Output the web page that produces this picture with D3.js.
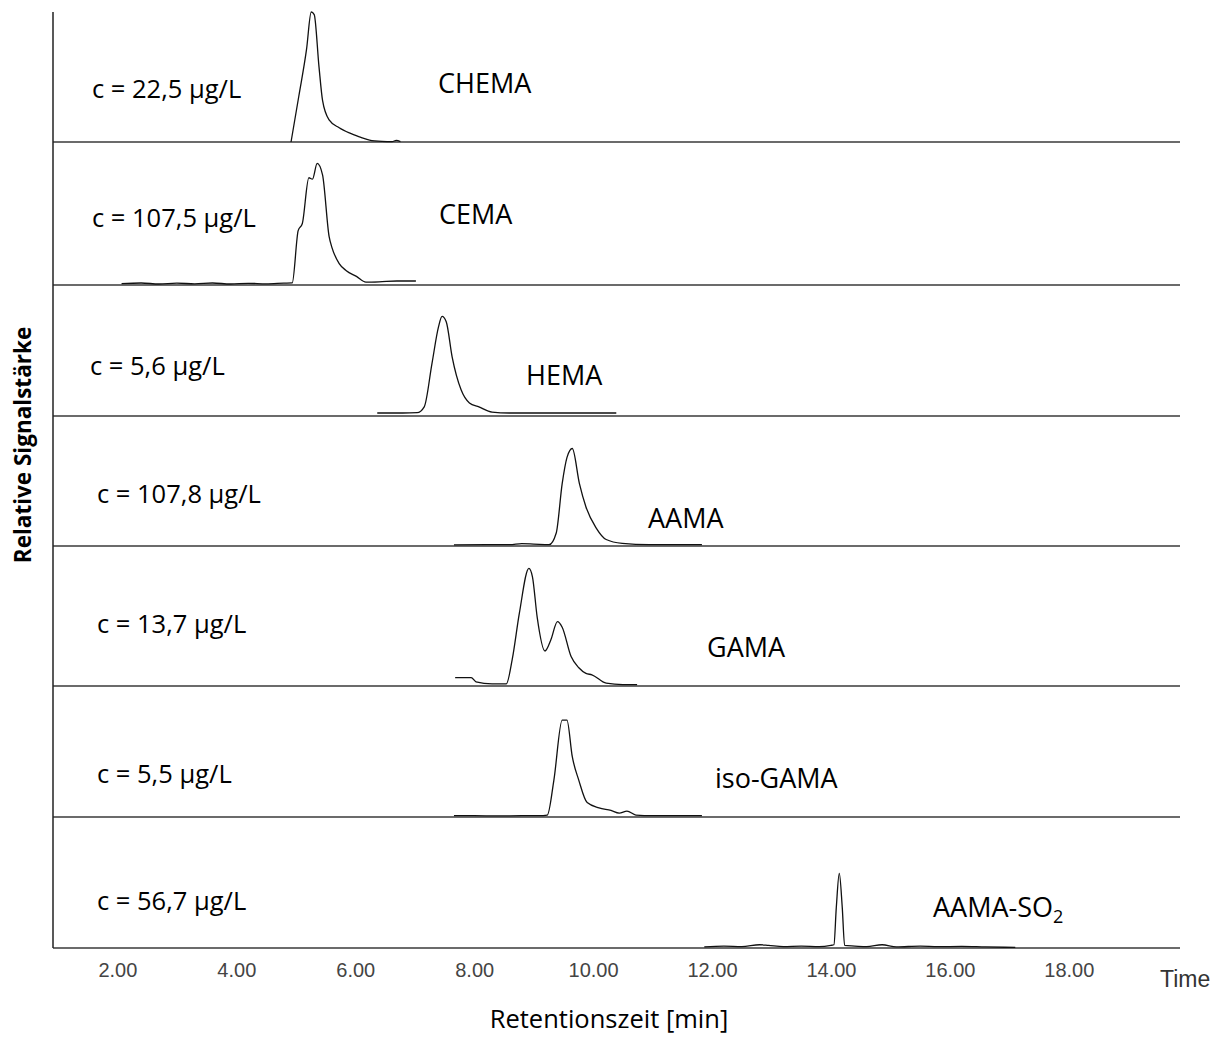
<!DOCTYPE html>
<html>
<head>
<meta charset="utf-8">
<script src="https://cdn.jsdelivr.net/npm/d3@7"></script>
<style>
  body { margin: 0; background: #fff; }
  .conc, .name, .xtitle, .ytitle { font-family: "Open Sans", sans-serif; fill: #000; }
  .axis text { font-family: "Liberation Sans", Arial, sans-serif; fill: #444; }
</style>
</head>
<body>
<div class="graph"></div>
<script>
// compound names + concentrations (one per panel, top to bottom)
var compounds = ["CHEMA", "CEMA", "HEMA", "AAMA", "GAMA", "iso-GAMA", "AAMA-SO"];
var concentrations = ["c = 22,5 µg/L", "c = 107,5 µg/L", "c = 5,6 µg/L", "c = 107,8 µg/L",
  "c = 13,7 µg/L", "c = 5,5 µg/L", "c = 56,7 µg/L"];
var tickValues = [2, 4, 6, 8, 10, 12, 14, 16, 18];

// traces: [retention time (min), relative signal (% of panel height)]
var chemaTrace = [[4.92,0],[5.05,35],[5.18,71],[5.26,100],[5.31,98],[5.39,58],[5.45,32],[5.56,17],
  [5.73,11],[5.90,7],[6.07,4],[6.24,1.5],[6.45,0.5],[6.62,0.3],[6.69,1.2],[6.76,0.3]];
var cemaTrace = [[2.07,1],[2.4,1.4],[2.7,0.7],[3.0,1.3],[3.3,0.8],[3.6,1.4],[3.9,0.7],[4.2,1.2],
  [4.5,0.8],[4.8,1.3],[4.94,1.5],[5.04,38],[5.11,43],[5.22,75],[5.28,74],[5.36,85],[5.45,77],
  [5.56,34],[5.61,26],[5.73,15],[5.85,10],[6.02,6],[6.18,2],[6.4,2.2],[6.7,2.8],[7.02,2.8]];
var hemaTrace = [[6.37,2.3],[6.8,2.3],[7.04,2.5],[7.16,7],[7.29,40],[7.40,68],[7.46,76],[7.53,72],
  [7.63,45],[7.78,20],[7.92,10],[8.08,7],[8.30,3],[8.59,2.3],[9.5,2.3],[10.39,2.3]];
var aamaTrace = [[7.66,0.8],[8.2,1],[8.6,1],[8.8,1.8],[9.0,1.5],[9.26,1],[9.38,10],[9.48,48],
  [9.56,68],[9.65,75],[9.77,48],[9.88,30],[10.05,14],[10.22,5],[10.49,2],[10.94,1],[11.4,1],[11.83,1]];
var gamaTrace = [[7.68,6],[7.95,6],[8.03,3],[8.30,1.5],[8.54,1.5],[8.64,19],[8.76,52],[8.92,84],
  [8.98,78],[9.06,49],[9.19,25],[9.29,33],[9.40,46],[9.48,42],[9.63,21],[9.76,13],[9.88,9],
  [9.98,8],[10.22,2],[10.5,1],[10.74,1]];
var isoGamaTrace = [[7.66,1],[8.0,1],[8.4,0.8],[8.8,1],[9.09,1],[9.23,1.5],[9.34,28],[9.48,74],
  [9.56,74],[9.65,46],[9.76,28],[9.90,11],[10.10,7],[10.30,5],[10.44,3],[10.57,4.5],[10.72,1.5],
  [11.0,1],[11.4,1],[11.83,1]];
var aamaSo2Trace = [[11.87,0.8],[12.2,1.5],[12.5,1],[12.8,2.5],[12.95,2],[13.2,1],[13.5,1.5],
  [13.8,1],[14.0,2],[14.05,2.5],[14.09,31],[14.14,57],[14.19,31],[14.23,2],[14.4,1.5],[14.6,1],
  [14.86,2.5],[15.1,0.8],[15.5,1.5],[15.8,1],[16.2,1.2],[16.6,0.8],[17.1,0.5]];
var traces = [chemaTrace, cemaTrace, hemaTrace, aamaTrace, gamaTrace, isoGamaTrace, aamaSo2Trace];

// layout
var width = 1225, height = 1042;
var plotLeft = 53, plotRight = 1180, plotTop = 12;
var panelBottoms = [142, 285, 416, 546, 686, 817, 948];
var concPos = [[92, -44], [92, -58], [90, -41], [97, -43], [97, -53], [97, -34], [97, -38]]; // px, offset from baseline
var namePos = [[438, -49], [439, -61], [526, -31], [648, -18], [707, -29], [715, -29], [933, -31]];

var svg = d3.select(".graph").append("svg")
  .attr("width", width).attr("height", height);

var x = d3.scaleLinear().domain([0.917, 19.87]).range([plotLeft, plotRight]);

var line = d3.line()
  .x(function (d) { return x(d[0]); })
  .curve(d3.curveMonotoneX);

traces.forEach(function (trace, i) {
  var bottom = panelBottoms[i];
  var panelTop = i === 0 ? plotTop : panelBottoms[i - 1];
  var y = d3.scaleLinear().domain([0, 100]).range([bottom, panelTop]);

  // baseline of each panel
  svg.append("line")
    .attr("x1", plotLeft).attr("x2", plotRight)
    .attr("y1", bottom).attr("y2", bottom)
    .attr("stroke", "#3a3a3a").attr("stroke-width", 1.6);

  svg.append("path").datum(trace)
    .attr("d", line.y(function (d) { return y(d[1]); }))
    .attr("fill", "none").attr("stroke", "#111").attr("stroke-width", 1.3);

  svg.append("text").attr("class", "conc")
    .attr("x", concPos[i][0]).attr("y", bottom + concPos[i][1])
    .style("font-size", "25.5px")
    .text(concentrations[i]);

  var t = svg.append("text").attr("class", "name")
    .attr("x", namePos[i][0]).attr("y", bottom + namePos[i][1])
    .style("font-size", "27px")
    .text(compounds[i]);
  if (i === 6) {
    t.append("tspan").attr("dy", 6).style("font-size", "18px").text("2");
  }
});

// left axis line
svg.append("line")
  .attr("x1", plotLeft).attr("x2", plotLeft)
  .attr("y1", plotTop).attr("y2", panelBottoms[6])
  .attr("stroke", "#222").attr("stroke-width", 1.5);

// x axis labels
var xAxis = svg.append("g").attr("class", "axis")
  .attr("transform", "translate(0," + panelBottoms[6] + ")")
  .call(d3.axisBottom(x).tickValues(tickValues).tickFormat(d3.format(".2f")).tickSize(0).tickPadding(15));
xAxis.select(".domain").remove();
xAxis.selectAll("text").style("font-size", "20px");

svg.append("text").attr("class", "axis")
  .attr("x", 1160).attr("y", 987)
  .style("font-family", "'Liberation Sans', Arial, sans-serif")
  .style("font-size", "23px").style("fill", "#333")
  .text("Time");

svg.append("text").attr("class", "xtitle")
  .attr("x", 609).attr("y", 1028)
  .attr("text-anchor", "middle")
  .style("font-size", "25.5px")
  .text("Retentionszeit [min]");

svg.append("text").attr("class", "ytitle")
  .attr("transform", "translate(31,445) rotate(-90)")
  .attr("text-anchor", "middle")
  .style("font-size", "22.5px").style("font-weight", "bold")
  .text("Relative Signalstärke");
</script>
</body>
</html>
